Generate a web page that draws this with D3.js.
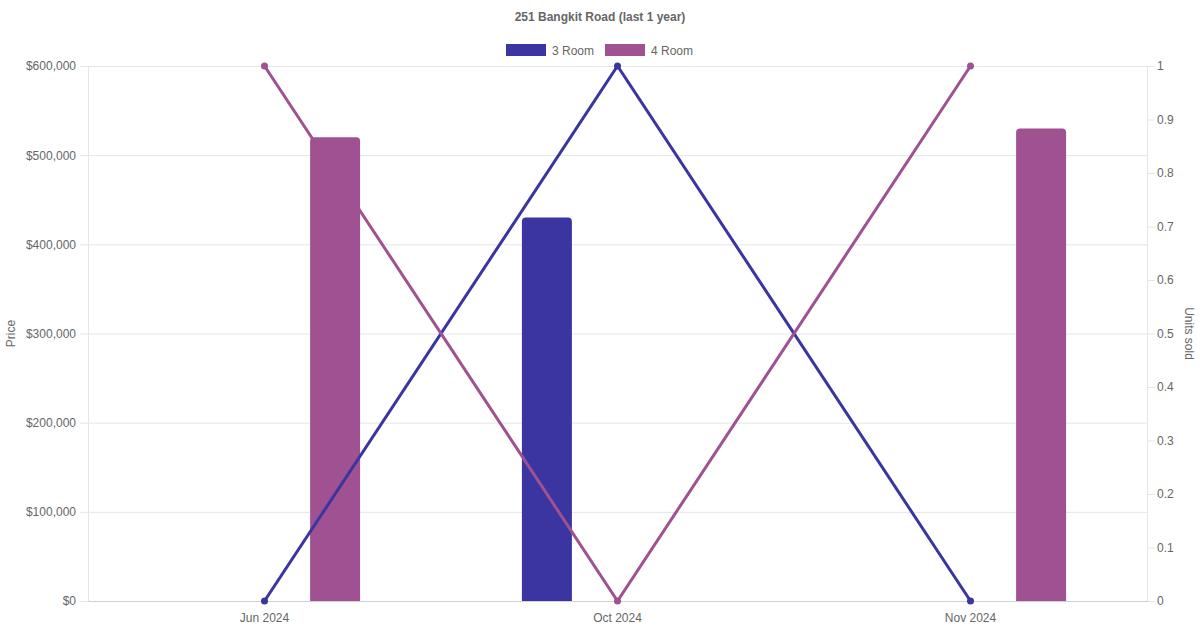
<!DOCTYPE html>
<html>
<head>
<meta charset="utf-8">
<script src="https://cdn.jsdelivr.net/npm/d3@7"></script>
<style>
  body { margin: 0; background: #fff; }
  svg { display: block; font-family: "Liberation Sans", Arial, Helvetica, sans-serif; }
</style>
</head>
<body>
<div id="chart"></div>
<script>
// chart data
var months = ["Jun 2024", "Oct 2024", "Nov 2024"];
var seriesNames = ["3 Room", "4 Room"];
var seriesColors = ["#3a35a0", "#9f5192"];
var price3Room = [null, 430000, null];
var price4Room = [520000, null, 530000];
var units3Room = [0, 1, 0];
var units4Room = [1, 0, 1];
var priceTicks = [0, 100000, 200000, 300000, 400000, 500000, 600000];
var unitTicks = [0, 0.1, 0.2, 0.3, 0.4, 0.5, 0.6, 0.7, 0.8, 0.9, 1];

var width = 1200, height = 630;
var margin = {top: 66, right: 53, bottom: 29, left: 88};

var svg = d3.select("#chart")
    .append("svg")
    .attr("width", width)
    .attr("height", height);

var xScale = d3.scaleBand()
    .domain(months)
    .range([margin.left, width - margin.right]);

// Chart.js style grouping: 80% of the category, two slots
var slotScale = d3.scaleBand()
    .domain(seriesNames)
    .range([0, xScale.bandwidth() * 0.8]);

var yPrice = d3.scaleLinear()
    .domain([0, 600000])
    .range([height - margin.bottom, margin.top]);

var yUnits = d3.scaleLinear()
    .domain([0, 1])
    .range([height - margin.bottom, margin.top]);

// grid + left axis
var leftAxis = svg.append("g")
    .attr("transform", "translate(" + margin.left + ",0)")
    .call(d3.axisLeft(yPrice)
        .tickValues(priceTicks)
        .tickSize(8)
        .tickPadding(4)
        .tickFormat(function(d) { return "$" + d3.format(",")(d); }));
leftAxis.select(".domain").remove();
leftAxis.selectAll(".tick line")
    .attr("x2", width - margin.right - margin.left)
    .attr("x1", -8)
    .attr("stroke", "#e5e5e5");
leftAxis.selectAll("text").attr("fill", "#666").attr("font-size", 12);

// right axis
var rightAxis = svg.append("g")
    .attr("transform", "translate(" + (width - margin.right) + ",0)")
    .call(d3.axisRight(yUnits)
        .tickValues(unitTicks)
        .tickSize(8)
        .tickPadding(2)
        .tickFormat(function(d) { return d3.format("")(d); }));
rightAxis.select(".domain").remove();
rightAxis.selectAll(".tick line").attr("stroke", "#e5e5e5");
rightAxis.selectAll("text").attr("fill", "#666").attr("font-size", 12);

// plot borders
svg.append("line")
    .attr("x1", margin.left + 0.5).attr("x2", margin.left + 0.5)
    .attr("y1", margin.top).attr("y2", height - margin.bottom)
    .attr("stroke", "#e5e5e5");
svg.append("line")
    .attr("x1", width - margin.right + 0.5).attr("x2", width - margin.right + 0.5)
    .attr("y1", margin.top).attr("y2", height - margin.bottom)
    .attr("stroke", "#e5e5e5");

// x axis
var bottomAxis = svg.append("g")
    .attr("transform", "translate(0," + (height - margin.bottom) + ")")
    .call(d3.axisBottom(xScale).tickSize(0).tickPadding(12));
bottomAxis.select(".domain").attr("stroke", "#d0d0d0");
bottomAxis.selectAll("text").attr("fill", "#666").attr("font-size", 12);

// bars
var barData = [];
[price3Room, price4Room].forEach(function(arr, s) {
    arr.forEach(function(v, i) {
        if (v !== null) barData.push({month: months[i], series: seriesNames[s], value: v, color: seriesColors[s]});
    });
});

function barPath(d) {
    var cx = xScale(d.month) + xScale.bandwidth() * 0.1 + slotScale(d.series) + slotScale.bandwidth() / 2;
    var w = Math.min(50, slotScale.bandwidth() * 0.9);
    var x0 = cx - w / 2, x1 = cx + w / 2;
    var y0 = yPrice(0), y1 = yPrice(d.value), r = 4;
    return "M" + x0 + "," + y0 +
        "V" + (y1 + r) + "Q" + x0 + "," + y1 + " " + (x0 + r) + "," + y1 +
        "H" + (x1 - r) + "Q" + x1 + "," + y1 + " " + x1 + "," + (y1 + r) +
        "V" + y0 + "Z";
}

svg.append("g")
    .selectAll("path")
    .data(barData)
    .enter()
    .append("path")
    .attr("d", barPath)
    .attr("fill", function(d) { return d.color; });

// lines
var line = d3.line()
    .x(function(d, i) { return xScale(months[i]) + xScale.bandwidth() / 2; })
    .y(function(d) { return yUnits(d); });

[units3Room, units4Room].forEach(function(arr, s) {
    var g = svg.append("g");
    g.append("path")
        .datum(arr)
        .attr("d", line)
        .attr("fill", "none")
        .attr("stroke", seriesColors[s])
        .attr("stroke-width", 3);
    g.selectAll("circle")
        .data(arr)
        .enter()
        .append("circle")
        .attr("cx", function(d, i) { return xScale(months[i]) + xScale.bandwidth() / 2; })
        .attr("cy", function(d) { return yUnits(d); })
        .attr("r", 3.5)
        .attr("fill", seriesColors[s]);
});

// title
svg.append("text")
    .attr("x", width / 2)
    .attr("y", 21)
    .attr("text-anchor", "middle")
    .attr("font-size", 12)
    .attr("font-weight", "bold")
    .attr("fill", "#666")
    .text("251 Bangkit Road (last 1 year)");

// legend
var legendX = [506, 605];
seriesNames.forEach(function(name, s) {
    svg.append("rect")
        .attr("x", legendX[s]).attr("y", 44)
        .attr("width", 40).attr("height", 12)
        .attr("fill", seriesColors[s]);
    svg.append("text")
        .attr("x", legendX[s] + 46).attr("y", 54.5)
        .attr("font-size", 12)
        .attr("fill", "#666")
        .text(name);
});

// axis titles
svg.append("text")
    .attr("transform", "translate(15," + (margin.top + (height - margin.bottom - margin.top) / 2) + ") rotate(-90)")
    .attr("text-anchor", "middle")
    .attr("font-size", 12)
    .attr("fill", "#666")
    .text("Price");
svg.append("text")
    .attr("transform", "translate(1185," + (margin.top + (height - margin.bottom - margin.top) / 2) + ") rotate(90)")
    .attr("text-anchor", "middle")
    .attr("font-size", 12)
    .attr("fill", "#666")
    .text("Units sold");
</script>
</body>
</html>
